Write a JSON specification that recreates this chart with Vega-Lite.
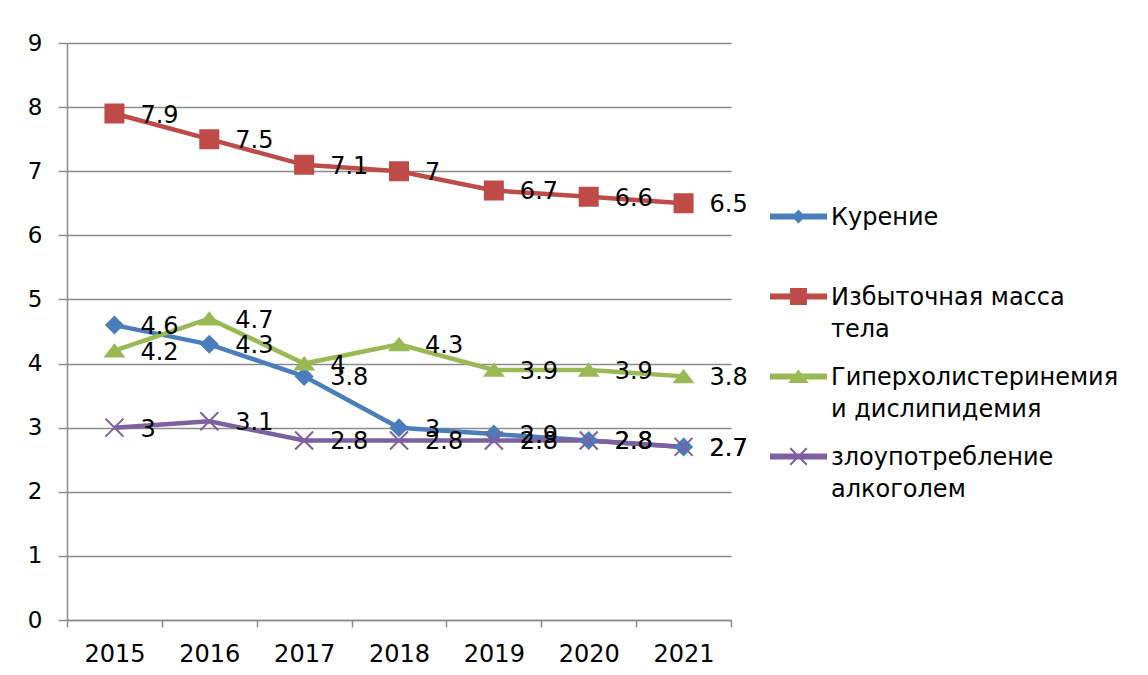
{
  "$schema": "https://vega.github.io/schema/vega-lite/v6.json",
  "autosize": {"type": "none"},
  "padding": {"left": 67, "top": 43, "right": 417, "bottom": 55},
  "width": 664,
  "height": 577,
  "background": "#ffffff",
  "config": {
    "font": "DejaVu Sans",
    "view": {"stroke": null},
    "axis": {
      "labelFont": "DejaVu Sans",
      "labelFontSize": 22,
      "labelColor": "#000000",
      "domainColor": "#8c8c8c",
      "domainWidth": 1.5,
      "tickColor": "#8c8c8c",
      "tickWidth": 1.5,
      "gridColor": "#8c8c8c",
      "gridWidth": 1.5,
      "title": null
    }
  },
  "data": {
    "values": [
      {"series": "Курение", "year": "2015", "value": 4.6},
      {"series": "Курение", "year": "2016", "value": 4.3},
      {"series": "Курение", "year": "2017", "value": 3.8},
      {"series": "Курение", "year": "2018", "value": 3.0},
      {"series": "Курение", "year": "2019", "value": 2.9},
      {"series": "Курение", "year": "2020", "value": 2.8},
      {"series": "Курение", "year": "2021", "value": 2.7},
      {"series": "Избыточная масса тела", "year": "2015", "value": 7.9},
      {"series": "Избыточная масса тела", "year": "2016", "value": 7.5},
      {"series": "Избыточная масса тела", "year": "2017", "value": 7.1},
      {"series": "Избыточная масса тела", "year": "2018", "value": 7.0},
      {"series": "Избыточная масса тела", "year": "2019", "value": 6.7},
      {"series": "Избыточная масса тела", "year": "2020", "value": 6.6},
      {"series": "Избыточная масса тела", "year": "2021", "value": 6.5},
      {"series": "Гиперхолистеринемия и дислипидемия", "year": "2015", "value": 4.2},
      {"series": "Гиперхолистеринемия и дислипидемия", "year": "2016", "value": 4.7},
      {"series": "Гиперхолистеринемия и дислипидемия", "year": "2017", "value": 4.0},
      {"series": "Гиперхолистеринемия и дислипидемия", "year": "2018", "value": 4.3},
      {"series": "Гиперхолистеринемия и дислипидемия", "year": "2019", "value": 3.9},
      {"series": "Гиперхолистеринемия и дислипидемия", "year": "2020", "value": 3.9},
      {"series": "Гиперхолистеринемия и дислипидемия", "year": "2021", "value": 3.8},
      {"series": "злоупотребление алкоголем", "year": "2015", "value": 3.0},
      {"series": "злоупотребление алкоголем", "year": "2016", "value": 3.1},
      {"series": "злоупотребление алкоголем", "year": "2017", "value": 2.8},
      {"series": "злоупотребление алкоголем", "year": "2018", "value": 2.8},
      {"series": "злоупотребление алкоголем", "year": "2019", "value": 2.8},
      {"series": "злоупотребление алкоголем", "year": "2020", "value": 2.8},
      {"series": "злоупотребление алкоголем", "year": "2021", "value": 2.7}
    ]
  },
  "encoding": {
    "x": {
      "field": "year",
      "type": "ordinal",
      "scale": {"type": "band", "paddingInner": 0, "paddingOuter": 0},
      "axis": {"labelAngle": 0, "tickBand": "extent", "tickSize": 7, "labelPadding": 15, "labelFontSize": 24, "grid": false}
    },
    "y": {
      "field": "value",
      "type": "quantitative",
      "scale": {"domain": [0, 9], "nice": false},
      "axis": {"values": [0, 1, 2, 3, 4, 5, 6, 7, 8, 9], "grid": true, "tickSize": 9, "labelPadding": 16, "labelFontSize": 23}
    }
  },
  "layer": [
    {
      "mark": {"type": "line", "strokeWidth": 4.5},
      "encoding": {
        "color": {
          "field": "series",
          "type": "nominal",
          "scale": {
            "domain": ["Курение", "Избыточная масса тела", "Гиперхолистеринемия и дислипидемия", "злоупотребление алкоголем"],
            "range": ["#4a7ebb", "#be4b48", "#98b954", "#7d60a0"]
          },
          "legend": {
            "orient": "none",
            "legendX": 703,
            "legendY": 145,
            "title": null,
            "padding": 0,
            "labelFont": "DejaVu Sans",
            "labelFontSize": 24,
            "labelColor": "#000000",
            "labelLimit": 500,
            "labelOffset": 4,
            "rowPadding": 6,
            "symbolSize": 3025,
            "labelBaseline": "alphabetic",
            "labelExpr": "datum.label == 'Курение' ? ['Курение', ''] : datum.label == 'Избыточная масса тела' ? ['Избыточная масса', 'тела'] : datum.label == 'Гиперхолистеринемия и дислипидемия' ? ['Гиперхолистеринемия', 'и дислипидемия'] : ['злоупотребление', 'алкоголем']",
            "encode": {
              "symbols": {
                "update": {
                  "shape": {"signal": "datum.value == 'Курение' ? 'M-1,-0.07H1V0.07H-1Z M0,-0.2L0.2,0L0,0.2L-0.2,0Z' : datum.value == 'Избыточная масса тела' ? 'M-1,-0.07H1V0.07H-1Z M-0.27,-0.27H0.27V0.27H-0.27Z' : datum.value == 'Гиперхолистеринемия и дислипидемия' ? 'M-1,-0.07H1V0.07H-1Z M0,-0.2L0.3,0.2H-0.3Z' : 'M-1,-0.07H1V0.07H-1Z M-0.3,-0.3L0.3,0.3M-0.3,0.3L0.3,-0.3'"},
                  "fill": {"signal": "scale('color', datum.value)"},
                  "stroke": {"signal": "scale('color', datum.value)"},
                  "strokeWidth": {"value": 2},
                  "opacity": {"value": 1}
                }
              },
              "labels": {
                "update": {
                  "dy": {"value": 8},
                  "lineHeight": {"value": 32}
                }
              }
            }
          }
        }
      }
    },
    {
      "transform": [{"filter": "datum.series == 'Курение'"}],
      "mark": {"type": "point", "filled": true, "opacity": 1, "strokeWidth": 2, "size": 324, "shape": "M0,-0.9L0.9,0L0,0.9L-0.9,0Z", "fill": "#4a7ebb", "stroke": "#4a7ebb"}
    },
    {
      "transform": [{"filter": "datum.series == 'Избыточная масса тела'"}],
      "mark": {"type": "point", "filled": true, "opacity": 1, "strokeWidth": 2, "size": 324, "shape": "M-1,-1H1V1H-1Z", "fill": "#be4b48", "stroke": "#be4b48"}
    },
    {
      "transform": [{"filter": "datum.series == 'Гиперхолистеринемия и дислипидемия'"}],
      "mark": {"type": "point", "filled": true, "opacity": 1, "strokeWidth": 2, "size": 324, "shape": "M0,-0.65L1,0.65H-1Z", "fill": "#98b954", "stroke": "#98b954"}
    },
    {
      "transform": [{"filter": "datum.series == 'злоупотребление алкоголем'"}],
      "mark": {"type": "point", "filled": true, "opacity": 1, "strokeWidth": 2, "size": 324, "shape": "M-1,-1L1,1M-1,1L1,-1", "fill": "#7d60a0", "stroke": "#7d60a0"}
    },
    {
      "mark": {"type": "text", "align": "left", "baseline": "middle", "dx": 26, "dy": 2, "fontSize": 24, "font": "DejaVu Sans", "color": "#000000"},
      "encoding": {
        "text": {"field": "value", "type": "quantitative", "format": "~g"}
      }
    }
  ]
}
